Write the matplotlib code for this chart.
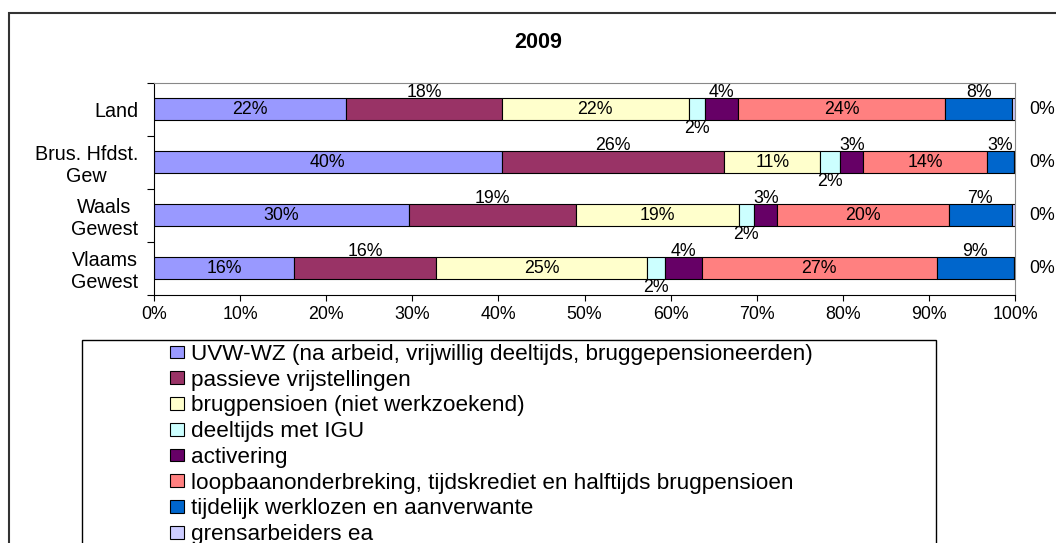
import numpy as np
import matplotlib
matplotlib.use("Agg")
import matplotlib.pyplot as plt
from matplotlib.patches import Patch, Rectangle

plt.rcParams['font.family'] = ['Liberation Sans', 'DejaVu Sans']

# data (shares in %)
regions = ["Land", "Brus. Hfdst.\nGew", "Waals\nGewest", "Vlaams\nGewest"]
series = [
    "UVW-WZ (na arbeid, vrijwillig deeltijds, bruggepensioneerden)",
    "passieve vrijstellingen",
    "brugpensioen (niet werkzoekend)",
    "deeltijds met IGU",
    "activering",
    "loopbaanonderbreking, tijdskrediet en halftijds brugpensioen",
    "tijdelijk werklozen en aanverwante",
    "grensarbeiders ea",
]
uvw = [22.3, 40.4, 29.6, 16.3]
passief = [18.1, 25.8, 19.4, 16.4]
brugpensioen = [21.7, 11.2, 18.9, 24.6]
igu = [1.9, 2.3, 1.8, 2.1]
activering = [3.8, 2.7, 2.7, 4.2]
loopbaan = [24.1, 14.3, 19.9, 27.3]
tijdelijk = [7.8, 3.2, 7.3, 9.0]
grens = [0.3, 0.1, 0.4, 0.1]
xticks = [0, 10, 20, 30, 40, 50, 60, 70, 80, 90, 100]

values = [uvw, passief, brugpensioen, igu, activering, loopbaan, tijdelijk, grens]
colors = ["#9999FF", "#993366", "#FFFFCC", "#CCFFFF", "#660066", "#FF8080", "#0066CC", "#CCCCFF"]
label_pos = ["in", "above", "in", "below", "above", "in", "above", "right"]

W, H = 1056, 543
fig = plt.figure(figsize=(W / 100, H / 100), dpi=100)
ax = fig.add_axes([154 / W, 1 - 294.5 / H, (1015 - 154) / W, (294.5 - 83) / H])

y = np.arange(len(regions))
bar_h = 0.416
lab_fs = 12.8
left = np.zeros(len(regions))
for vals, col, pos in zip(values, colors, label_pos):
    vals = np.array(vals)
    ax.barh(y, vals, left=left, height=bar_h, color=col, edgecolor="black", linewidth=0.8, zorder=2)
    for i, v in enumerate(vals):
        txt = f"{round(v)}%"
        cx = left[i] + v / 2
        if pos == "in":
            ax.text(cx, y[i], txt, ha="center", va="center", fontsize=lab_fs, zorder=3)
        elif pos == "above":
            ax.annotate(txt, (cx, y[i] - bar_h / 2), xytext=(0, 6), textcoords="offset pixels",
                        ha="center", va="center", fontsize=lab_fs, zorder=1)
        elif pos == "below":
            ax.annotate(txt, (cx, y[i] + bar_h / 2), xytext=(0, -8), textcoords="offset pixels",
                        ha="center", va="center", fontsize=lab_fs, zorder=1)
        else:
            ax.text(101.6, y[i], txt, ha="left", va="center", fontsize=lab_fs, clip_on=False)
    left += vals

ax.set_xlim(0, 100)
ax.set_ylim(len(regions) - 0.5, -0.5)
ax.set_xticks(xticks)
ax.set_xticklabels([f"{t}%" for t in xticks])
ax.set_yticks(y)
ax.set_yticklabels(regions)
ax.set_yticks(np.arange(-0.5, len(regions), 1.0), minor=True)
for lab in ax.get_yticklabels():
    lab.set_multialignment("center")
ax.tick_params(axis="y", which="major", length=0, pad=11.5, labelsize=14.2)
ax.tick_params(axis="y", which="minor", length=5, width=0.8, direction="out")
ax.tick_params(axis="x", length=4.5, width=0.8, direction="out", pad=4, labelsize=12.8)

for s in ["top", "right"]:
    ax.spines[s].set_color("#888888")
    ax.spines[s].set_linewidth(0.8)
for s in ["left", "bottom"]:
    ax.spines[s].set_color("black")
    ax.spines[s].set_linewidth(0.8)

fig.text(538 / W, 1 - 42 / H, "2009", ha="center", va="center", fontsize=15.5, fontweight="bold")

handles = [Patch(facecolor=c, edgecolor="black", linewidth=0.8) for c in colors]
fig.legend(handles, series, loc="upper left", bbox_to_anchor=(170 / W, 1 - 344 / H),
           frameon=False, fontsize=16.2, handlelength=0.6, handleheight=0.5,
           handletextpad=0.35, labelspacing=0.21, borderpad=0, borderaxespad=0)

# legend frame and chart border (both run past the picture edge)
fig.add_artist(Rectangle((82 / W, -0.05), (936 - 82) / W, (543 - 340) / H + 0.05,
                         transform=fig.transFigure, fill=False, edgecolor="black", linewidth=1))
fig.add_artist(Rectangle((9 / W, -0.05), 1.1, 1 - 13 / H + 0.05,
                         transform=fig.transFigure, fill=False, edgecolor="#333333", linewidth=1.5))

fig.savefig("out.png", dpi=100)
